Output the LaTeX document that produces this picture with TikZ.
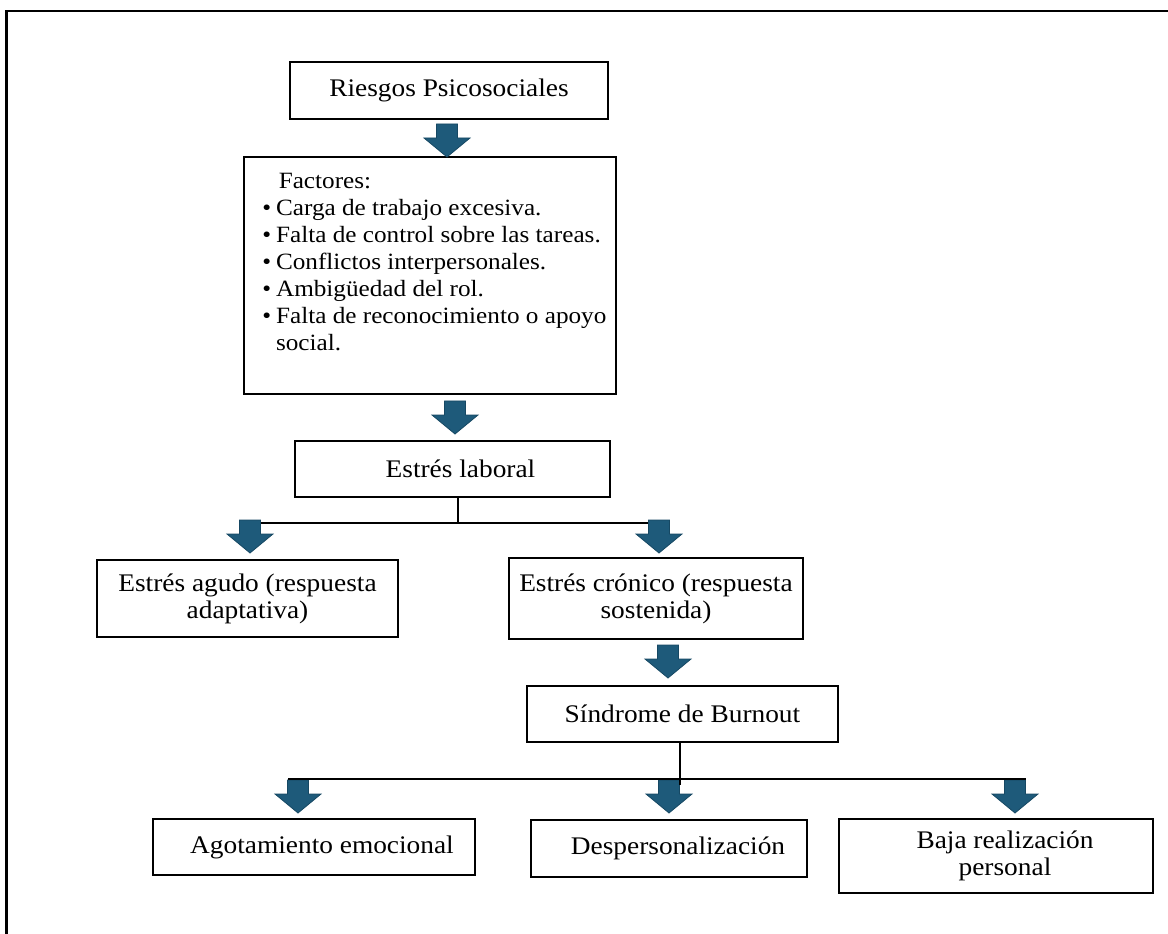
\documentclass[tikz,border=0pt]{standalone}
\usepackage{fontspec}
\setmainfont{Liberation Serif}[FakeStretch=1.08]
\usetikzlibrary{calc}
\definecolor{arrfill}{HTML}{1E5A7A}
\definecolor{arredge}{HTML}{164863}
\tikzset{
  box/.style={draw=black, line width=1.5pt, inner sep=0pt, align=center, font=\fontsize{19}{20.3}\selectfont},
  conn/.style={draw=black, line width=2pt},
  frame/.style={draw=black, line width=1.6pt},
  barrow/.pic={\filldraw[fill=arrfill, draw=arredge, line width=0.6pt]
     (-10.5,0) -- (10.5,0) -- (10.5,14) -- (23,14) -- (0,33) -- (-23,14) -- (-10.5,14) -- cycle;}
}
\begin{document}
\begin{tikzpicture}[x=0.75pt, y=-0.75pt]
\useasboundingbox (0,0) rectangle (1168,934);
% outer frame (top and left edges visible)
\draw[frame] (6.5,945) -- (6.5,11) -- (1180,11);

% boxes
\node[box, minimum width=238.5pt, minimum height=42.75pt] (riesgos) at (449,90.5) {Riesgos Psicosociales};
\node[box, minimum width=279pt, minimum height=177.75pt] (factores) at (430,275.5) {};
\node[anchor=north west, inner sep=0pt, font=\fontsize{17.5}{20.3}\selectfont] (factxt) at (262,169)
 {\begin{tabular}{@{}l@{\hspace{3.75pt}}l@{}}
   & \hspace*{2pt}Factores:\\
  \textbullet & Carga de trabajo excesiva.\\
  \textbullet & Falta de control sobre las tareas.\\
  \textbullet & Conflictos interpersonales.\\
  \textbullet & Ambigüedad del rol.\\
  \textbullet & Falta de reconocimiento o apoyo\\
   & social.
  \end{tabular}};
\node[box, minimum width=236.25pt, minimum height=42pt] (laboral) at (452.5,469) {\hspace*{12pt}Estrés laboral};
\node[box, minimum width=225.75pt, minimum height=57.75pt] (agudo) at (247.5,598.5) {Estrés agudo (respuesta\\adaptativa)};
\node[box, minimum width=220.5pt, minimum height=60.75pt] (cronico) at (656,598.5) {Estrés crónico (respuesta\\sostenida)};
\node[box, minimum width=233.25pt, minimum height=42pt] (sindrome) at (682.5,714) {Síndrome de Burnout};
\node[box, minimum width=241.5pt, minimum height=42pt] (agot) at (314,847) {\hspace*{12pt}Agotamiento emocional};
\node[box, minimum width=207pt, minimum height=42.75pt] (desp) at (669,848.5) {\hspace*{13.5pt}Despersonalización};
\node[box, minimum width=235.5pt, minimum height=55.5pt] (baja) at (996,856) {\hspace*{13.5pt}Baja realización\\\hspace*{13.5pt}personal};

% arrow anchor points (top centre of each block arrow)
\coordinate (a1) at (447,124);
\coordinate (a2) at (455,401);
\coordinate (a3) at (250,520);
\coordinate (a4) at (659,520);
\coordinate (a5) at (668,645);
\coordinate (a6) at (298,780);
\coordinate (a7) at (669,780);
\coordinate (a8) at (1015,780);
\coordinate (j1) at (458,523);
\coordinate (j2) at (680,779);

% branch from Estres laboral (behind arrows)
\draw[conn] (laboral.south -| j1) -- (j1);
\draw[conn] (a3 |- j1) -- (a4 |- j1);

% block arrows
\foreach \a in {a1,a2,a3,a4,a5,a6,a7,a8} { \pic at (\a) {barrow}; }

% branch from Sindrome (over arrows)
\draw[conn] ($(a6 |- j2)+(-10,0)$) -- ($(a8 |- j2)+(10.5,0)$);
\draw[conn] (sindrome.south -| j2) -- ($(j2)+(0,6)$);
\end{tikzpicture}
\end{document}
